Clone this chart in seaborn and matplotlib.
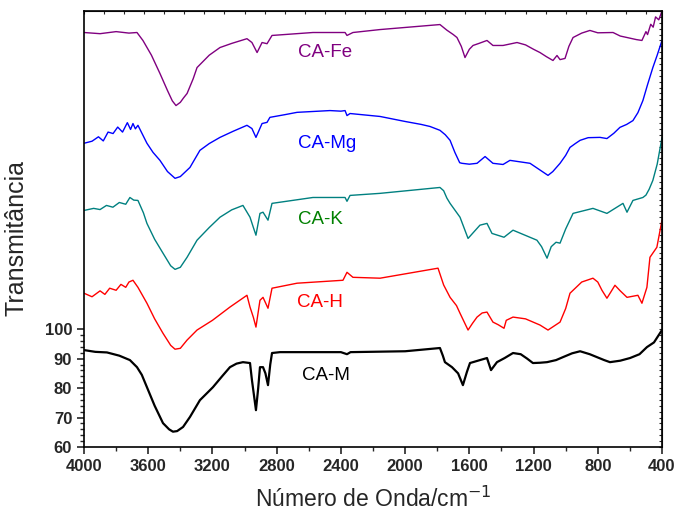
import numpy as np
import pandas as pd
import seaborn as sns
import matplotlib
matplotlib.use("Agg")
import matplotlib.pyplot as plt
from matplotlib.ticker import FixedLocator, MultipleLocator

sns.set_style("ticks")
plt.rcParams['font.family'] = ['Liberation Sans', 'DejaVu Sans']

# spectra (wavenumber / cm-1, stacked transmittance)
wn_m = [4000, 3930, 3857, 3780, 3714, 3670, 3640, 3608, 3560, 3508, 3470, 3446, 3420, 3383,
        3340, 3278, 3230, 3197, 3140, 3091, 3050, 3010, 2966, 2954, 2940, 2929, 2915, 2904,
        2885, 2870, 2854, 2840, 2829, 2779, 2400, 2362, 2340, 2000, 1783, 1765, 1752, 1708,
        1670, 1640, 1615, 1596, 1534, 1490, 1465, 1428, 1380, 1328, 1280, 1240, 1204, 1160,
        1116, 1060, 1017, 960, 910, 850, 805, 760, 724, 660, 599, 540, 494, 450, 400]
t_m = [92.9, 92.3, 92.1, 91.0, 89.5, 87.1, 84.5, 80.3, 74.0, 68.1, 66.0, 65.2, 65.4, 66.8,
       70.2, 75.9, 78.5, 80.3, 84.0, 87.1, 88.3, 88.8, 88.5, 82.7, 77.0, 72.5, 80.0, 87.1,
       87.1, 85.0, 81.0, 88.0, 91.9, 92.2, 92.2, 91.5, 92.2, 92.5, 93.6, 91.0, 88.8, 87.1,
       85.0, 81.0, 85.5, 88.5, 89.5, 90.2, 86.1, 88.8, 90.2, 91.9, 91.5, 90.0, 88.5, 88.6,
       88.8, 89.5, 90.5, 91.8, 92.5, 91.5, 90.5, 89.5, 88.8, 89.3, 90.2, 91.5, 93.9, 95.5,
       99.7]

wn_h = [4000, 3950, 3900, 3870, 3840, 3800, 3770, 3740, 3720, 3695, 3664, 3608, 3560, 3508,
        3460, 3433, 3400, 3358, 3296, 3200, 3091, 2985, 2966, 2945, 2929, 2904, 2885, 2854,
        2829, 2673, 2387, 2362, 2325, 2156, 1795, 1760, 1720, 1680, 1658, 1608, 1580, 1552,
        1520, 1490, 1453, 1420, 1384, 1370, 1328, 1250, 1160, 1110, 1035, 1000, 973, 900,
        830, 800, 774, 743, 720, 693, 660, 618, 550, 525, 494, 475, 432, 400]
t_h = [112.2, 111.0, 113.0, 111.8, 113.9, 113.2, 115.2, 114.2, 116.0, 116.6, 114.2, 108.8,
       103.5, 98.6, 94.5, 93.2, 93.5, 96.3, 99.7, 103.0, 107.5, 111.5, 107.5, 104.0, 100.7,
       109.8, 110.8, 107.1, 113.9, 115.6, 116.6, 119.3, 117.6, 117.3, 120.7, 115.0, 110.8,
       108.0, 105.4, 99.7, 102.0, 104.1, 105.5, 105.8, 102.4, 101.5, 100.3, 103.0, 104.1,
       103.5, 101.4, 99.7, 102.4, 107.0, 112.2, 116.0, 117.3, 116.0, 113.2, 110.5, 112.5,
       114.9, 113.0, 110.8, 111.5, 108.8, 114.2, 124.4, 127.8, 137.0]

wn_k = [4000, 3940, 3900, 3860, 3820, 3780, 3740, 3714, 3690, 3664, 3630, 3608, 3560, 3508,
        3460, 3433, 3400, 3358, 3296, 3220, 3153, 3080, 3010, 2966, 2945, 2929, 2904, 2885,
        2854, 2829, 2574, 2374, 2362, 2343, 2156, 1783, 1760, 1740, 1720, 1658, 1608, 1534,
        1490, 1459, 1384, 1328, 1179, 1150, 1116, 1090, 1060, 1035, 1000, 954, 830, 743,
        643, 618, 581, 519, 500, 480, 457, 430, 400]
t_k = [140.3, 141.0, 140.6, 142.0, 141.4, 143.0, 142.4, 144.7, 143.8, 143.7, 139.5, 135.9,
       130.5, 125.8, 121.5, 120.3, 121.0, 124.4, 130.2, 134.5, 138.0, 140.5, 142.0, 138.0,
       134.5, 131.9, 139.3, 139.7, 137.0, 142.7, 144.7, 144.7, 143.4, 145.4, 146.1, 148.1,
       147.0, 144.5, 142.7, 138.0, 130.8, 135.3, 135.9, 132.5, 131.2, 133.6, 130.2, 128.0,
       124.1, 128.0, 129.5, 129.2, 134.0, 139.3, 141.0, 139.3, 142.7, 139.7, 143.7, 144.7,
       145.5, 147.5, 150.5, 156.0, 165.0]

wn_mg = [4000, 3950, 3910, 3880, 3850, 3819, 3790, 3760, 3730, 3710, 3695, 3680, 3664, 3608,
         3570, 3527, 3480, 3433, 3400, 3340, 3278, 3220, 3153, 3070, 2985, 2954, 2929, 2891,
         2860, 2842, 2750, 2673, 2468, 2400, 2374, 2362, 2343, 2156, 2000, 1900, 1845, 1783,
         1750, 1720, 1690, 1660, 1646, 1600, 1552, 1502, 1453, 1390, 1347, 1222, 1110, 1080,
         1035, 1000, 973, 940, 910, 860, 786, 743, 700, 662, 620, 581, 550, 519, 490, 457,
         430, 400]
t_mg = [163.1, 163.8, 165.3, 163.9, 166.9, 166.4, 168.6, 166.9, 170.1, 167.8, 169.8, 168.0,
        169.2, 163.1, 160.0, 157.3, 153.5, 151.2, 151.8, 154.9, 160.7, 163.0, 165.1, 167.2,
        169.2, 168.1, 165.1, 169.8, 170.2, 171.9, 172.8, 173.6, 174.2, 174.0, 174.2, 172.5,
        173.2, 172.2, 170.5, 169.5, 168.8, 167.5, 166.0, 164.1, 160.0, 156.5, 156.3, 156.0,
        156.3, 158.6, 156.3, 155.9, 157.3, 156.3, 152.2, 153.5, 156.3, 159.0, 161.7, 163.0,
        164.1, 165.0, 165.1, 164.7, 166.5, 168.5, 169.5, 170.8, 173.5, 177.6, 183.0, 188.8,
        193.0, 198.0]

wn_fe = [4000, 3900, 3800, 3720, 3670, 3633, 3580, 3527, 3480, 3450, 3427, 3400, 3380, 3358,
         3320, 3296, 3220, 3153, 3080, 2985, 2954, 2922, 2891, 2860, 2829, 2574, 2374, 2362,
         2325, 2156, 1783, 1740, 1700, 1677, 1650, 1627, 1600, 1577, 1540, 1490, 1453, 1390,
         1303, 1250, 1200, 1160, 1120, 1079, 1054, 1035, 1004, 980, 954, 900, 849, 800, 705,
         660, 618, 560, 525, 500, 490, 470, 455, 440, 420, 400]
t_fe = [200.7, 200.3, 201.0, 200.5, 200.7, 198.0, 193.0, 186.8, 181.0, 177.5, 175.9, 177.0,
        178.5, 180.0, 185.0, 188.8, 193.0, 195.6, 197.0, 198.6, 197.3, 193.9, 197.3, 196.9,
        199.7, 200.7, 200.7, 199.7, 200.7, 201.7, 203.4, 201.5, 200.0, 199.0, 196.0, 192.2,
        195.0, 196.3, 197.0, 198.0, 196.3, 196.3, 197.3, 196.5, 195.0, 193.9, 192.5, 191.2,
        192.9, 191.5, 191.9, 196.0, 199.0, 200.5, 201.4, 200.6, 200.7, 199.5, 199.0, 198.3,
        198.0, 201.0, 200.0, 203.5, 202.5, 206.0, 205.0, 208.0]

names = ["CA-M", "CA-H", "CA-K", "CA-Mg", "CA-Fe"]
colors = ["black", "#ff0000", "#008080", "#0000ff", "#800080"]
label_colors = ["black", "#ff0000", "#008000", "#0000ff", "#800080"]
label_x = [2493, 2530, 2530, 2487, 2499]
label_y = [84.2, 109.0, 137.3, 163.1, 193.9]
x_ticks = [4000, 3600, 3200, 2800, 2400, 2000, 1600, 1200, 800, 400]
y_ticks = [60, 70, 80, 90, 100]

series = [(wn_m, t_m), (wn_h, t_h), (wn_k, t_k), (wn_mg, t_mg), (wn_fe, t_fe)]

fig = plt.figure(figsize=(6.78, 5.21), dpi=100)
ax = fig.add_axes([84 / 678, 1 - 447 / 521, (662 - 84) / 678, (447 - 11) / 521])

for (wn, t), name, c in zip(series, names, colors):
    df = pd.DataFrame({"wn": wn, "t": t})
    sns.lineplot(data=df, x="wn", y="t", ax=ax, color=c, sort=False,
                 linewidth=1.6 if name == "CA-M" else 1.0)

for name, c, lx, ly in zip(names, label_colors, label_x, label_y):
    ax.text(lx, ly, name, color=c, fontsize=13.5, ha="center", va="center")

ax.set_xlim(4000, 400)
ax.set_ylim(60, 208)
ax.xaxis.set_major_locator(FixedLocator(x_ticks))
ax.xaxis.set_minor_locator(MultipleLocator(200))
ax.yaxis.set_major_locator(FixedLocator(y_ticks))
ax.yaxis.set_minor_locator(FixedLocator(np.arange(60, 101, 2)))
ax.tick_params(which="major", direction="out", length=5, width=1.2, labelsize=12)
ax.tick_params(which="minor", direction="out", length=3, width=1.0)
for lab in ax.get_xticklabels() + ax.get_yticklabels():
    lab.set_fontweight("bold")

for s in ax.spines.values():
    s.set_visible(True)
    s.set_linewidth(1.2)
    s.set_color("black")

top = ax.secondary_xaxis("top")
top.xaxis.set_major_locator(MultipleLocator(125))
top.tick_params(direction="in", length=2, labeltop=False)
right = ax.secondary_yaxis("right")
right.yaxis.set_major_locator(MultipleLocator(2))
right.tick_params(direction="in", length=2, labelright=False)

ax.set_xlabel("Número de Onda/cm$^{-1}$", fontsize=16.5, labelpad=9)
ax.set_ylabel("Transmitância", fontsize=18)
ax.yaxis.set_label_coords(-0.096, 0.48)

fig.savefig("out.png", dpi=100)
